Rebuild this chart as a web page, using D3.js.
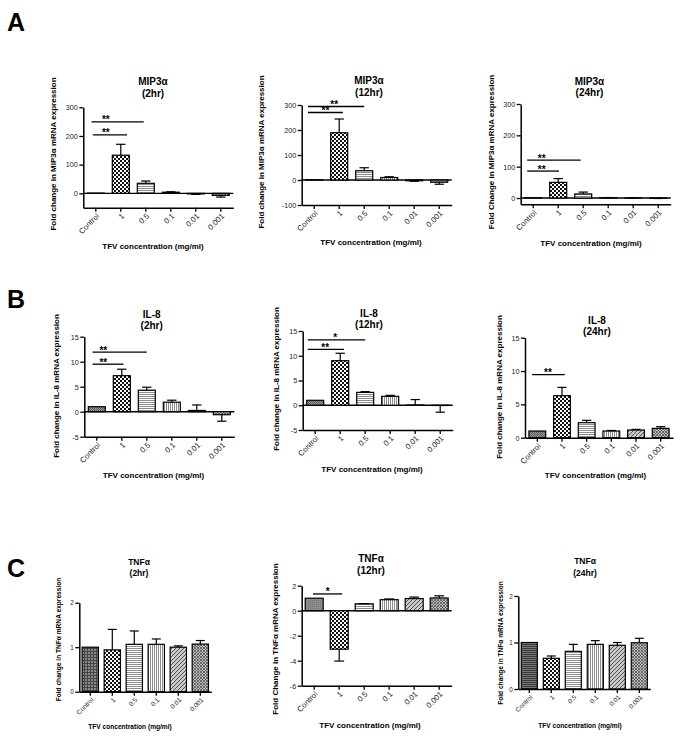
<!DOCTYPE html>
<html><head><meta charset="utf-8">
<script src="https://cdn.jsdelivr.net/npm/d3@7"></script>
<style>
body{margin:0;background:#fff;}
svg{display:block;font-family:"Liberation Sans",Arial,sans-serif;}
</style></head><body>
<svg id="chart" width="683" height="736"></svg>
<script>
// ---------- DATA ----------
const categories = ["Control", "1", "0.5", "0.1", "0.01", "0.001"];

const mip2hValues = [1, 133, 35, 4, -2, -7];
const mip2hErr    = [0, 38, 8, 1.5, 1.5, 6];
const mip12hValues = [1, 189, 37, 10, -3, -9];
const mip12hErr    = [0, 55, 12, 3, 2, 8];
const mip24hValues = [1, 50, 13, 1, 0.5, -1];
const mip24hErr    = [0, 12, 6, 0.5, 0.3, 0.5];

const il8_2hValues = [1.0, 7.2, 4.3, 1.9, 0.25, -0.6];
const il8_2hErr    = [0, 1.3, 0.6, 0.4, 1.1, 1.3];
const il8_12hValues = [1.0, 9.0, 2.6, 1.8, 0.05, -0.05];
const il8_12hErr    = [0, 1.5, 0.15, 0.2, 1.1, 1.35];
const il8_24hValues = [1.0, 6.3, 2.25, 1.0, 1.15, 1.4];
const il8_24hErr    = [0, 1.25, 0.35, 0.08, 0.1, 0.25];

const tnf2hValues = [1.0, 0.94, 1.065, 1.065, 1.0, 1.07];
const tnf2hErr    = [0, 0.46, 0.3, 0.12, 0.03, 0.08];
const tnf12hValues = [1.0, -3.08, 0.55, 0.88, 0.97, 1.02];
const tnf12hErr    = [0, 0.95, 0.02, 0.06, 0.12, 0.17];
const tnf24hValues = [1.0, 0.66, 0.81, 0.96, 0.94, 0.995];
const tnf24hErr    = [0, 0.05, 0.15, 0.08, 0.06, 0.095];

const ticksMip2h = [0, 100, 200, 300];
const ticksMip12h = [-100, 0, 100, 200, 300];
const ticksMip24h = [0, 100, 200, 300];
const ticksIl8 = [-5, 0, 5, 10, 15];
const ticksIl8_24h = [0, 5, 10, 15];
const ticksTnf = [0, 1, 2];
const ticksTnf12h = [-6, -4, -2, 0, 2];

// significance brackets: from/to in category-index units, level in data units
const sigMip2h = [{from: -0.17, to: 1.92, level: 249, label: "**", at: 0.4},
                  {from: -0.12, to: 1.25, level: 204, label: "**", at: 0.4}];
const sigMip12h = [{from: -0.25, to: 2.0, level: 294, label: "**", at: 0.8},
                   {from: -0.25, to: 1.15, level: 270, label: "**", at: 0.45}];
const sigMip24h = [{from: -0.24, to: 1.9, level: 121, label: "**", at: 0.34},
                   {from: -0.24, to: 1.03, level: 86, label: "**", at: 0.34}];
const sigIl8_2h = [{from: -0.17, to: 2.0, level: 11.9, label: "**", at: 0.26},
                   {from: -0.17, to: 1.07, level: 9.5, label: "**", at: 0.26}];
const sigIl8_12h = [{from: -0.3, to: 2.0, level: 13.2, label: "*", at: 0.8},
                    {from: -0.3, to: 1.15, level: 11.3, label: "**", at: 0.4}];
const sigIl8_24h = [{from: -0.21, to: 1.11, level: 9.46, label: "**", at: 0.43}];
const sigTnf2h = [];
const sigTnf12h = [{from: -0.05, to: 1.12, level: 1.34, label: "*", at: 0.54}];
const sigTnf24h = [];

// ---------- LAYOUT ----------
const panels = [
  {values: mip2hValues, err: mip2hErr, ticks: ticksMip2h, sig: sigMip2h, domain: [-50, 300],
   x0: 83.3, w: 150, yB: 207.7, yT: 107.3, pad: 0.32, title: ["MIP3\u03b1", "(2hr)"], tx: 153, ty: [81, 93],
   ylab: "Fold change in MIP3\u03b1 mRNA expression", lx: 53.5, ly: 154, xlx: 153, xly: 246, ctrl: "ctrlAB", small: false},
  {values: mip12hValues, err: mip12hErr, ticks: ticksMip12h, sig: sigMip12h, domain: [-100, 300],
   x0: 301.7, w: 150, yB: 205, yT: 105, pad: 0.32, title: ["MIP3\u03b1", "(12hr)"], tx: 369, ty: [80, 92.6],
   ylab: "Fold change in MIP3\u03b1 mRNA expression", lx: 261, ly: 152, xlx: 371, xly: 242, ctrl: "ctrlAB", small: false},
  {values: mip24hValues, err: mip24hErr, ticks: ticksMip24h, sig: sigMip24h, domain: [-20, 300],
   x0: 520.7, w: 150, yB: 204.3, yT: 104, pad: 0.32, title: ["MIP3\u03b1", "(24hr)"], tx: 589.5, ty: [81, 92],
   ylab: "Fold Change in MIP3\u03b1 mRNA expression", lx: 491, ly: 152, xlx: 591, xly: 242.7, ctrl: "ctrlAB", small: false},
  {values: il8_2hValues, err: il8_2hErr, ticks: ticksIl8, sig: sigIl8_2h, domain: [-5, 15],
   x0: 84.3, w: 150, yB: 436.7, yT: 336.7, pad: 0.32, title: ["IL-8", "(2hr)"], tx: 151.7, ty: [314.3, 325.7],
   ylab: "Fold change in IL-8 mRNA expression", lx: 56, ly: 386, xlx: 153.5, xly: 475, ctrl: "ctrlAB", small: false},
  {values: il8_12hValues, err: il8_12hErr, ticks: ticksIl8, sig: sigIl8_12h, domain: [-5, 15],
   x0: 302.7, w: 150, yB: 430, yT: 331, pad: 0.32, title: ["IL-8", "(12hr)"], tx: 369, ty: [313.5, 324.5],
   ylab: "Fold change in IL-8 mRNA expression", lx: 275.7, ly: 379, xlx: 372, xly: 469, ctrl: "ctrlAB", small: false},
  {values: il8_24hValues, err: il8_24hErr, ticks: ticksIl8_24h, sig: sigIl8_24h, domain: [0, 15],
   x0: 525, w: 148, yB: 437.7, yT: 337.7, pad: 0.32, title: ["IL-8", "(24hr)"], tx: 597, ty: [320, 331],
   ylab: "Fold change in IL-8 mRNA expression", lx: 499.6, ly: 387, xlx: 595.5, xly: 475, ctrl: "ctrlAB", small: false},
  {values: tnf2hValues, err: tnf2hErr, ticks: ticksTnf, sig: sigTnf2h, domain: [0, 2],
   x0: 79.3, w: 132, yB: 691.7, yT: 602.7, pad: 0.26, title: ["TNF\u03b1", "(2hr)"], tx: 139, ty: [561.7, 572.7],
   ylab: "Fold change in TNF\u03b1 mRNA expression", lx: 59, ly: 639.5, xlx: 130, xly: 726.7, ctrl: "ctrlC1", small: true},
  {values: tnf12hValues, err: tnf12hErr, ticks: ticksTnf12h, sig: sigTnf12h, domain: [-6, 2],
   x0: 301.7, w: 150, yB: 685.7, yT: 585.7, pad: 0.28, title: ["TNF\u03b1", "(12hr)"], tx: 371, ty: [558, 570],
   ylab: "Fold Change in TNF\u03b1 mRNA expression", lx: 275, ly: 639, xlx: 370, xly: 725, ctrl: "ctrlC2", small: false},
  {values: tnf24hValues, err: tnf24hErr, ticks: ticksTnf, sig: sigTnf24h, domain: [0, 2],
   x0: 518.3, w: 132, yB: 689, yT: 596, pad: 0.27, title: ["TNF\u03b1", "(24hr)"], tx: 585, ty: [561, 573.5],
   ylab: "Fold change in TNF\u03b1 mRNA expression", lx: 500.5, ly: 643, xlx: 580, xly: 726, ctrl: "ctrlC3", small: true}
];
const panelLetters = [{t: "A", x: 7, y: 31}, {t: "B", x: 7, y: 308}, {t: "C", x: 7, y: 577}];

// ---------- DRAW ----------
const svg = d3.select("#chart");
const defs = svg.append("defs");

function pat(id, size, build) {
  const p = defs.append("pattern").attr("id", id).attr("patternUnits", "userSpaceOnUse")
    .attr("width", size).attr("height", size);
  build(p);
}
pat("ctrlAB", 2, p => {
  p.append("rect").attr("width", 2).attr("height", 2).attr("fill", "#9a9a9a");
  p.append("rect").attr("width", 1).attr("height", 1).attr("fill", "#5a5a5a");
  p.append("rect").attr("x", 1).attr("y", 1).attr("width", 1).attr("height", 1).attr("fill", "#5a5a5a");
});
pat("ctrlC1", 3, p => {
  p.append("rect").attr("width", 3).attr("height", 3).attr("fill", "#8a8a8a");
  p.append("path").attr("d", "M0,0.5H3M0.5,0V3").attr("stroke", "#444").attr("stroke-width", 1);
});
pat("ctrlC2", 2, p => {
  p.append("rect").attr("width", 2).attr("height", 2).attr("fill", "#8c8c8c");
  p.append("rect").attr("width", 1).attr("height", 1).attr("fill", "#777");
});
pat("ctrlC3", 2, p => {
  p.append("rect").attr("width", 2).attr("height", 2).attr("fill", "#777");
  p.append("rect").attr("width", 2).attr("height", 1).attr("fill", "#3a3a3a");
});
pat("check", 4, p => {
  p.append("rect").attr("width", 4).attr("height", 4).attr("fill", "#fff");
  p.append("rect").attr("width", 2).attr("height", 2).attr("fill", "#111");
  p.append("rect").attr("x", 2).attr("y", 2).attr("width", 2).attr("height", 2).attr("fill", "#111");
});
pat("horiz", 2, p => {
  p.append("rect").attr("width", 2).attr("height", 2).attr("fill", "#fff");
  p.append("rect").attr("width", 2).attr("height", 1).attr("fill", "#8c8c8c");
});
pat("vert", 2, p => {
  p.append("rect").attr("width", 2).attr("height", 2).attr("fill", "#fff");
  p.append("rect").attr("width", 1).attr("height", 2).attr("fill", "#8c8c8c");
});
pat("diag", 4, p => {
  p.append("rect").attr("width", 4).attr("height", 4).attr("fill", "#c8c8c8");
  p.append("path").attr("d", "M-1,1L1,-1M0,4L4,0M3,5L5,3").attr("stroke", "#555").attr("stroke-width", 1);
});
pat("cross", 3, p => {
  p.append("rect").attr("width", 3).attr("height", 3).attr("fill", "#bbb");
  p.append("path").attr("d", "M0,0L3,3M3,0L0,3").attr("stroke", "#555").attr("stroke-width", 0.8);
});
const catPatterns = [null, "check", "horiz", "vert", "diag", "cross"];

panelLetters.forEach(l => {
  svg.append("text").attr("x", l.x).attr("y", l.y).text(l.t)
    .attr("font-size", 25).attr("font-weight", "bold").attr("fill", "#000");
});

panels.forEach(cfg => {
  const g = svg.append("g");
  const x = d3.scaleBand().domain(categories).range([cfg.x0, cfg.x0 + cfg.w])
    .paddingInner(cfg.pad).paddingOuter(cfg.pad / 2);
  const y = d3.scaleLinear().domain(cfg.domain).range([cfg.yB, cfg.yT]);
  const bw = x.bandwidth();
  const xi = d3.scaleLinear().domain([0, categories.length - 1])
    .range([x(categories[0]) + bw / 2, x(categories[categories.length - 1]) + bw / 2]);

  const tickFs = cfg.small ? 6.3 : 7.2;
  const xTickFs = cfg.small ? 6.5 : 7.8;

  // zero line
  if (cfg.domain[0] < 0) {
    g.append("line").attr("x1", cfg.x0).attr("x2", cfg.x0 + cfg.w)
      .attr("y1", y(0)).attr("y2", y(0)).attr("stroke", "#000").attr("stroke-width", 1.4);
  }

  // bars
  const data = categories.map((c, i) => ({c, i, v: cfg.values[i], e: cfg.err[i]}));
  g.selectAll("rect.bar").data(data).join("rect").attr("class", "bar")
    .attr("x", d => x(d.c)).attr("width", bw)
    .attr("y", d => y(Math.max(0, d.v)))
    .attr("height", d => Math.abs(y(d.v) - y(0)))
    .attr("fill", d => "url(#" + (d.i === 0 ? cfg.ctrl : catPatterns[d.i]) + ")")
    .attr("stroke", "#000").attr("stroke-width", 1.2);

  // error bars (one-sided)
  const capW = bw * 0.55;
  data.filter(d => d.e > 0).forEach(d => {
    const cx = x(d.c) + bw / 2;
    const end = d.v >= 0 ? d.v + d.e : d.v - d.e;
    g.append("line").attr("x1", cx).attr("x2", cx).attr("y1", y(d.v)).attr("y2", y(end))
      .attr("stroke", "#000").attr("stroke-width", 1.2);
    g.append("line").attr("x1", cx - capW / 2).attr("x2", cx + capW / 2).attr("y1", y(end)).attr("y2", y(end))
      .attr("stroke", "#000").attr("stroke-width", 1.2);
  });

  // axes
  const yAxis = g.append("g").attr("transform", `translate(${cfg.x0},0)`)
    .call(d3.axisLeft(y).tickValues(cfg.ticks).tickFormat(d => String(d))
      .tickSize(4).tickSizeOuter(0).tickPadding(1.5));
  yAxis.select(".domain").attr("stroke-width", 1.5);
  yAxis.selectAll(".tick line").attr("stroke-width", 1.3);
  yAxis.selectAll("text").attr("font-size", tickFs).attr("font-family", "Liberation Sans, Arial, sans-serif").attr("fill", "#222");

  const xAxis = g.append("g").attr("transform", `translate(0,${cfg.yB})`)
    .call(d3.axisBottom(x).tickSize(4).tickSizeOuter(0).tickFormat(""));
  xAxis.select(".domain").attr("stroke-width", 1.5);
  xAxis.selectAll(".tick line").attr("stroke-width", 1.3);
  categories.forEach(c => {
    const tx = x(c) + bw / 2;
    g.append("text").text(c)
      .attr("transform", `translate(${tx + 2},${cfg.yB + 7}) rotate(-45)`)
      .attr("text-anchor", "end").attr("dy", "0.35em")
      .attr("font-size", xTickFs).attr("fill", "#222");
  });

  // significance
  cfg.sig.forEach(s => {
    g.append("line").attr("x1", xi(s.from)).attr("x2", xi(s.to))
      .attr("y1", y(s.level)).attr("y2", y(s.level)).attr("stroke", "#000").attr("stroke-width", 1.3);
    g.append("text").attr("x", xi(s.at)).attr("y", y(s.level) + 1.5).text(s.label)
      .attr("text-anchor", "middle").attr("font-size", 10).attr("font-weight", "bold");
  });

  // titles
  const titleFs = cfg.small ? 8.5 : 10;
  cfg.title.forEach((t, k) => {
    g.append("text").attr("x", cfg.tx).attr("y", cfg.ty[k]).attr("dy", "0.35em").text(t)
      .attr("text-anchor", "middle").attr("font-size", titleFs)
      .attr("font-weight", "bold");
  });
  g.append("text").attr("transform", `translate(${cfg.lx},${cfg.ly}) rotate(-90)`)
    .attr("text-anchor", "middle").attr("dy", "0.35em").text(cfg.ylab)
    .attr("font-size", cfg.small ? 6.6 : 8).attr("font-weight", "bold");
  g.append("text").attr("x", cfg.xlx).attr("y", cfg.xly).attr("dy", "0.35em")
    .text("TFV concentration (mg/ml)").attr("text-anchor", "middle")
    .attr("font-size", cfg.small ? 6.6 : 8).attr("font-weight", "bold");
});
</script>
</body></html>
